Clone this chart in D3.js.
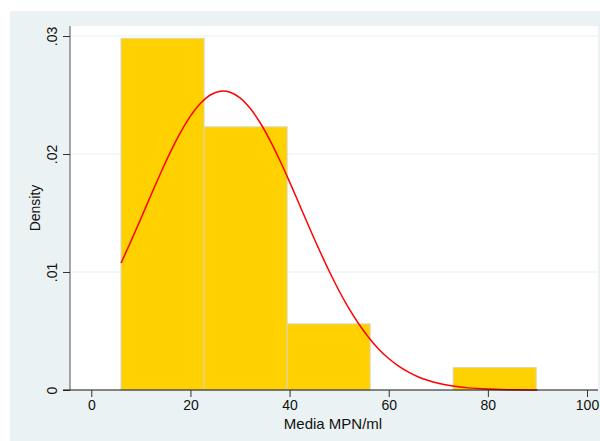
<!DOCTYPE html>
<html>
<head>
<meta charset="UTF-8">
<script src="https://d3js.org/d3.v7.min.js"></script>
<style>
  body { margin: 0; background: #fff; }
  svg { font-family: Arial, "Liberation Sans", sans-serif; }
</style>
</head>
<body>
<div id="chart"></div>
<script>
// histogram bins (left edge, width) and densities
const binStarts = [6, 22.75, 39.5, 56.25, 73];
const binWidth = 16.75;
const densities = [0.0298, 0.0223, 0.0056, 0, 0.0019];

// normal density overlay
const curveX = [6, 8, 10, 12, 14, 16, 18, 20, 22, 24, 26, 28, 30, 32, 34, 36, 38, 40, 42, 44,
  46, 48, 50, 52, 54, 56, 58, 60, 62, 64, 66, 68, 70, 72, 74, 76, 78, 80, 84, 88, 90];
const curveY = [0.01076, 0.01261, 0.01453, 0.01648, 0.01839, 0.0202, 0.02183, 0.02321, 0.02428,
  0.025, 0.02532, 0.02524, 0.02476, 0.02389, 0.02269, 0.0212, 0.01949, 0.01764, 0.0157, 0.01375,
  0.01186, 0.01006, 0.00839, 0.00689, 0.00557, 0.00443, 0.00346, 0.00267, 0.00202, 0.00151,
  0.0011, 0.0008, 0.00057, 0.0004, 0.00027, 0.00018, 0.00012, 0.00008, 0.00003, 0.00001, 0.00001];

const xTicks = [0, 20, 40, 60, 80, 100];
const yTicks = [0, 0.01, 0.02, 0.03];
const yTickLabels = ["0", ".01", ".02", ".03"];

const width = 600, height = 441;
const plot = { left: 70, right: 598, top: 26, bottom: 390 };

const svg = d3.select("#chart").append("svg")
  .attr("width", width)
  .attr("height", height);

// outer graph region
svg.append("rect")
  .attr("x", 10).attr("y", 11)
  .attr("width", width - 10).attr("height", height - 11)
  .attr("fill", "#eaf2f3");

// plot region
svg.append("rect")
  .attr("x", plot.left).attr("y", plot.top)
  .attr("width", plot.right - plot.left).attr("height", plot.bottom - plot.top)
  .attr("fill", "#ffffff");

const x = d3.scaleLinear().domain([0, 100]).range([91.3, 587]);
const y = d3.scaleLinear().domain([0, 0.03]).range([plot.bottom, 36]);

// grid lines
svg.append("g")
  .selectAll("line")
  .data(yTicks.slice(1))
  .enter().append("line")
  .attr("x1", plot.left).attr("x2", plot.right)
  .attr("y1", d => y(d)).attr("y2", d => y(d))
  .attr("stroke", "#e6eff1")
  .attr("stroke-width", 1);

// bars
svg.append("g")
  .selectAll("rect")
  .data(densities.map((d, i) => ({ x0: binStarts[i], v: d })).filter(d => d.v > 0))
  .enter().append("rect")
  .attr("x", d => x(d.x0))
  .attr("y", d => y(d.v))
  .attr("width", d => x(d.x0 + binWidth) - x(d.x0))
  .attr("height", d => y(0) - y(d.v))
  .attr("fill", "#ffd100")
  .attr("stroke", "#d9d4b4")
  .attr("stroke-width", 1);

// density curve
const line = d3.line()
  .x(d => x(d[0]))
  .y(d => y(d[1]))
  .curve(d3.curveCatmullRom);

svg.append("path")
  .datum(curveX.map((d, i) => [d, curveY[i]]))
  .attr("d", line)
  .attr("fill", "none")
  .attr("stroke", "#ff0000")
  .attr("stroke-width", 1.5);

// y axis
const yAxis = d3.axisLeft(y)
  .tickValues(yTicks)
  .tickFormat((d, i) => yTickLabels[i])
  .tickSize(7)
  .tickPadding(5);

const gy = svg.append("g")
  .attr("transform", `translate(${plot.left},0)`)
  .call(yAxis);
gy.select(".domain").attr("d", `M0,${plot.top}V${plot.bottom}`).attr("stroke", "#555");
gy.selectAll(".tick line").attr("stroke", "#333");
gy.selectAll(".tick text")
  .attr("font-size", 14)
  .attr("fill", "#111")
  .attr("text-anchor", "middle")
  .attr("x", 0).attr("y", 0)
  .attr("dy", "0")
  .attr("transform", "translate(-13,0) rotate(-90)");

// x axis
const xAxis = d3.axisBottom(x)
  .tickValues(xTicks)
  .tickFormat(d3.format("d"))
  .tickSize(7)
  .tickPadding(3);

const gx = svg.append("g")
  .attr("transform", `translate(0,${plot.bottom})`)
  .call(xAxis);
gx.select(".domain").attr("d", `M${plot.left - 7},0H${plot.right}`).attr("stroke", "#111");
gx.selectAll(".tick line").attr("stroke", "#333");
gx.selectAll(".tick text").attr("font-size", 14).attr("fill", "#111");

// axis titles
svg.append("text")
  .attr("x", 333).attr("y", 429)
  .attr("text-anchor", "middle")
  .attr("font-size", 15)
  .attr("fill", "#111")
  .text("Media MPN/ml");

svg.append("text")
  .attr("transform", "translate(40,208) rotate(-90)")
  .attr("text-anchor", "middle")
  .attr("font-size", 14)
  .attr("fill", "#111")
  .text("Density");
</script>
</body>
</html>
